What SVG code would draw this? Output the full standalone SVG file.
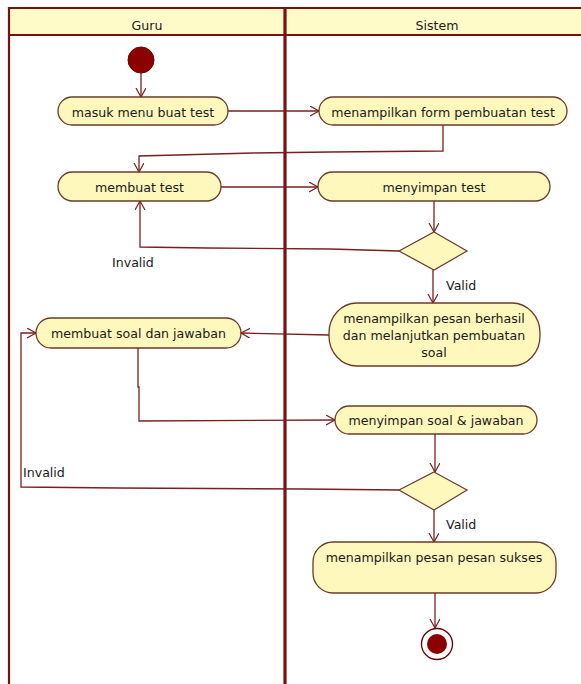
<svg xmlns="http://www.w3.org/2000/svg" width="581" height="684" viewBox="0 0 581 684">
  <style>
    .lane { fill: none; stroke: #7a1010; }
    .hdr { fill: #FFFBC8; stroke: none; }
    .act { fill: #FFF8BC; stroke: #6b3a2a; stroke-width: 1.3; }
    .dec { fill: #FFF8BC; stroke: #6b3a2a; stroke-width: 1.2; }
    .flow { fill: none; stroke: #7a1f1f; stroke-width: 1.3; marker-end: url(#arr); }
    .plain { fill: none; stroke: #7a1f1f; stroke-width: 1.3; }
    text { font-family: "DejaVu Sans", Verdana, sans-serif; font-size: 12.6px; fill: #1a1a1a; }
    .c { text-anchor: middle; }
  </style>
  <defs>
    <marker id="arr" markerUnits="userSpaceOnUse" markerWidth="12" markerHeight="12" refX="9" refY="5" orient="auto">
      <path d="M0,0 L9,5 L0,10" fill="none" stroke="#7a1f1f" stroke-width="1.2"/>
    </marker>
  </defs>

  <rect x="0" y="0" width="581" height="684" fill="#ffffff"/>

  <!-- swimlanes -->
  <g id="lanes">
    <rect class="hdr" x="9" y="8" width="572" height="27"/>
    <line class="lane" x1="9" y1="8" x2="581" y2="8" stroke-width="2"/>
    <line class="lane" x1="9" y1="35" x2="581" y2="35" stroke-width="2"/>
    <line class="lane" x1="9" y1="7" x2="9" y2="684" stroke-width="2.2"/>
    <line class="lane" x1="285" y1="7" x2="285" y2="684" stroke-width="3.2"/>
    <text class="c" x="147" y="29.5">Guru</text>
    <text class="c" x="437" y="29.5">Sistem</text>
  </g>

  <!-- connectors -->
  <g id="connectors">
    <path class="flow" d="M141,73 L141,97"/>
    <path class="flow" d="M228,111 L319,111"/>
    <path class="flow" d="M443,125 L443,151 L330,152 L253,153 L139,156 L139,172"/>
    <path class="flow" d="M221,187 L318,187"/>
    <path class="flow" d="M434,201 L434,232"/>
    <path class="flow" d="M399,251 L330,249 L207,248 L140,247 L140,201"/>
    <path class="flow" d="M433,270 L433,303"/>
    <path class="flow" d="M329,335 L241,333"/>
    <path class="flow" d="M138,348 L138,387 L139,387 L139,421 L335,420"/>
    <path class="flow" d="M435,434 L435,472"/>
    <path class="flow" d="M399,490 L305,489 L117,488 L21,487 L21,333 L36,333"/>
    <path class="flow" d="M434,510 L434,542"/>
    <path class="flow" d="M435,593 L435,628"/>
    <text x="112" y="267">Invalid</text>
    <text x="446" y="290">Valid</text>
    <text x="23" y="477">Invalid</text>
    <text x="446" y="529">Valid</text>
  </g>

  <!-- nodes -->
  <g id="start">
    <circle cx="141" cy="60" r="13" fill="#8B0000" stroke="#6a0000" stroke-width="1"/>
  </g>

  <g id="masuk-menu">
    <rect class="act" x="58" y="97" width="170" height="28" rx="14"/>
    <text class="c" x="143" y="117">masuk menu buat test</text>
  </g>

  <g id="tampil-form">
    <rect class="act" x="319" y="97" width="248" height="28" rx="14"/>
    <text class="c" x="443" y="117">menampilkan form pembuatan test</text>
  </g>

  <g id="membuat-test">
    <rect class="act" x="58" y="172" width="163" height="29" rx="14.5"/>
    <text class="c" x="139.5" y="192">membuat test</text>
  </g>

  <g id="simpan-test">
    <rect class="act" x="318" y="172" width="232" height="29" rx="14.5"/>
    <text class="c" x="434" y="192">menyimpan test</text>
  </g>

  <g id="cek-test">
    <polygon class="dec" points="434,232 467,251 434,270 399,251"/>
  </g>

  <g id="tampil-berhasil">
    <rect class="act" x="329" y="303" width="211" height="63" rx="28" ry="30"/>
    <text class="c" x="434" y="323">menampilkan pesan berhasil</text>
    <text class="c" x="434" y="340">dan melanjutkan pembuatan</text>
    <text class="c" x="434" y="357">soal</text>
  </g>

  <g id="membuat-soal">
    <rect class="act" x="36" y="318" width="205" height="30" rx="15"/>
    <text class="c" x="138.5" y="338">membuat soal dan jawaban</text>
  </g>

  <g id="simpan-soal">
    <rect class="act" x="335" y="406" width="202" height="28" rx="14"/>
    <text class="c" x="436" y="425">menyimpan soal &amp; jawaban</text>
  </g>

  <g id="cek-soal">
    <polygon class="dec" points="434,472 467,490 434,510 399,490"/>
  </g>

  <g id="tampil-sukses">
    <rect class="act" x="313" y="542" width="243" height="51" rx="20"/>
    <text class="c" x="434" y="562">menampilkan pesan pesan sukses</text>
  </g>

  <g id="end">
    <circle cx="437" cy="644" r="15.5" fill="#ffffff" stroke="#6a0000" stroke-width="1.3"/>
    <circle cx="437" cy="644" r="10" fill="#8B0000"/>
  </g>
</svg>
